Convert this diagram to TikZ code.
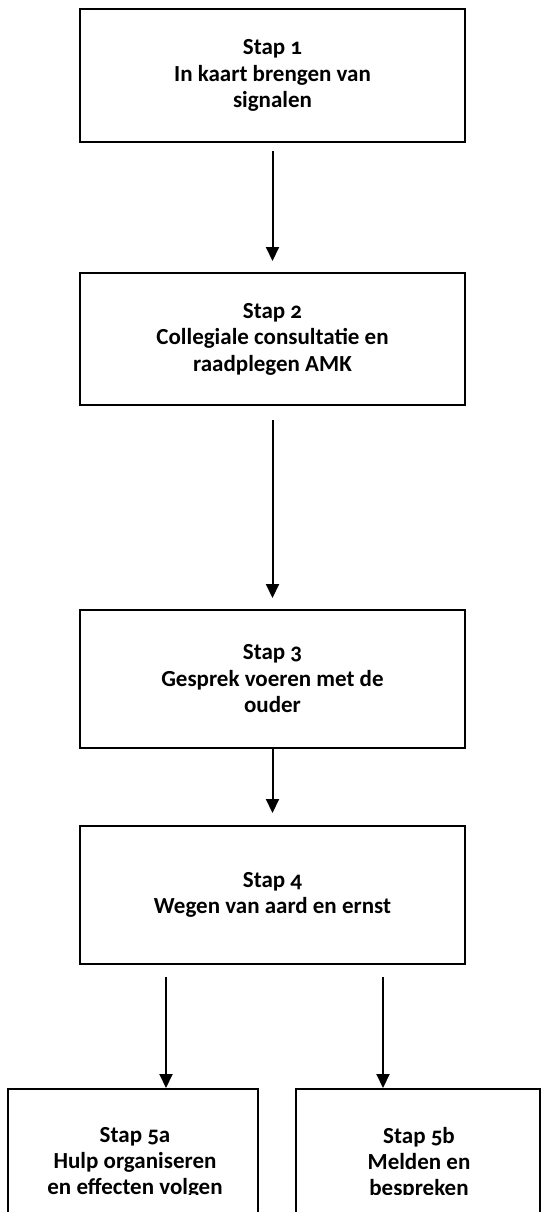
\documentclass[tikz,border=0pt]{standalone}
\usepackage{fontspec}
\setmainfont{Carlito}[Numbers=OldStyle]
\usetikzlibrary{arrows.meta}
\begin{document}
\begin{tikzpicture}[x=1pt,y=-1pt,
  stepbox/.style={draw,rectangle,line width=2pt,inner sep=0pt,
    font=\fontsize{23}{26.5}\selectfont\bfseries,align=center},
  lbl/.style={font=\fontsize{23}{26}\selectfont\bfseries,align=center,inner sep=0pt},
  conn/.style={line width=2pt,-{Triangle[width=13pt,length=14pt]}}]
\clip (0,0) rectangle (542,1212);
\node[stepbox,minimum width=385pt,minimum height=133pt] (b1) at (272.5,75.5)
  {Stap 1\\In kaart brengen van\\signalen};
\node[stepbox,minimum width=385pt,minimum height=132pt] (b2) at (272.5,339)
  {Stap 2\\Collegiale consultatie en\\raadplegen AMK};
\node[stepbox,minimum width=385pt,minimum height=138pt] (b3) at (272.5,679)
  {Stap 3\\Gesprek voeren met de\\ouder};
\node[stepbox,minimum width=385pt,minimum height=138pt] (b4) at (272.5,895)
  {Stap 4\\Wegen van aard en ernst};
\node[stepbox,minimum width=250pt,minimum height=148pt] (b5a) at (133,1163) {};
\node[stepbox,minimum width=244pt,minimum height=148pt] (b5b) at (418,1163) {};
\begin{scope}
  \clip (0,0) rectangle (542,1194);
  \node[lbl] (t5a) at (135,1163) {Stap 5a\\Hulp organiseren\\en effecten volgen};
  \node[lbl] (t5b) at (419,1163) {Stap 5b\\Melden en\\bespreken};
\end{scope}
\coordinate (s4a) at (166,977);
\coordinate (s4b) at (383,977);
\draw[conn,shorten <=8pt,shorten >=11pt] (b1) -- (b2);
\draw[conn,shorten <=14pt,shorten >=11pt] (b2) -- (b3);
\draw[conn,shorten >=12pt] (b3) -- (b4);
\draw[conn] (s4a) -- (s4a |- b5a.north);
\draw[conn] (s4b) -- (s4b |- b5b.north);
\end{tikzpicture}
\end{document}
